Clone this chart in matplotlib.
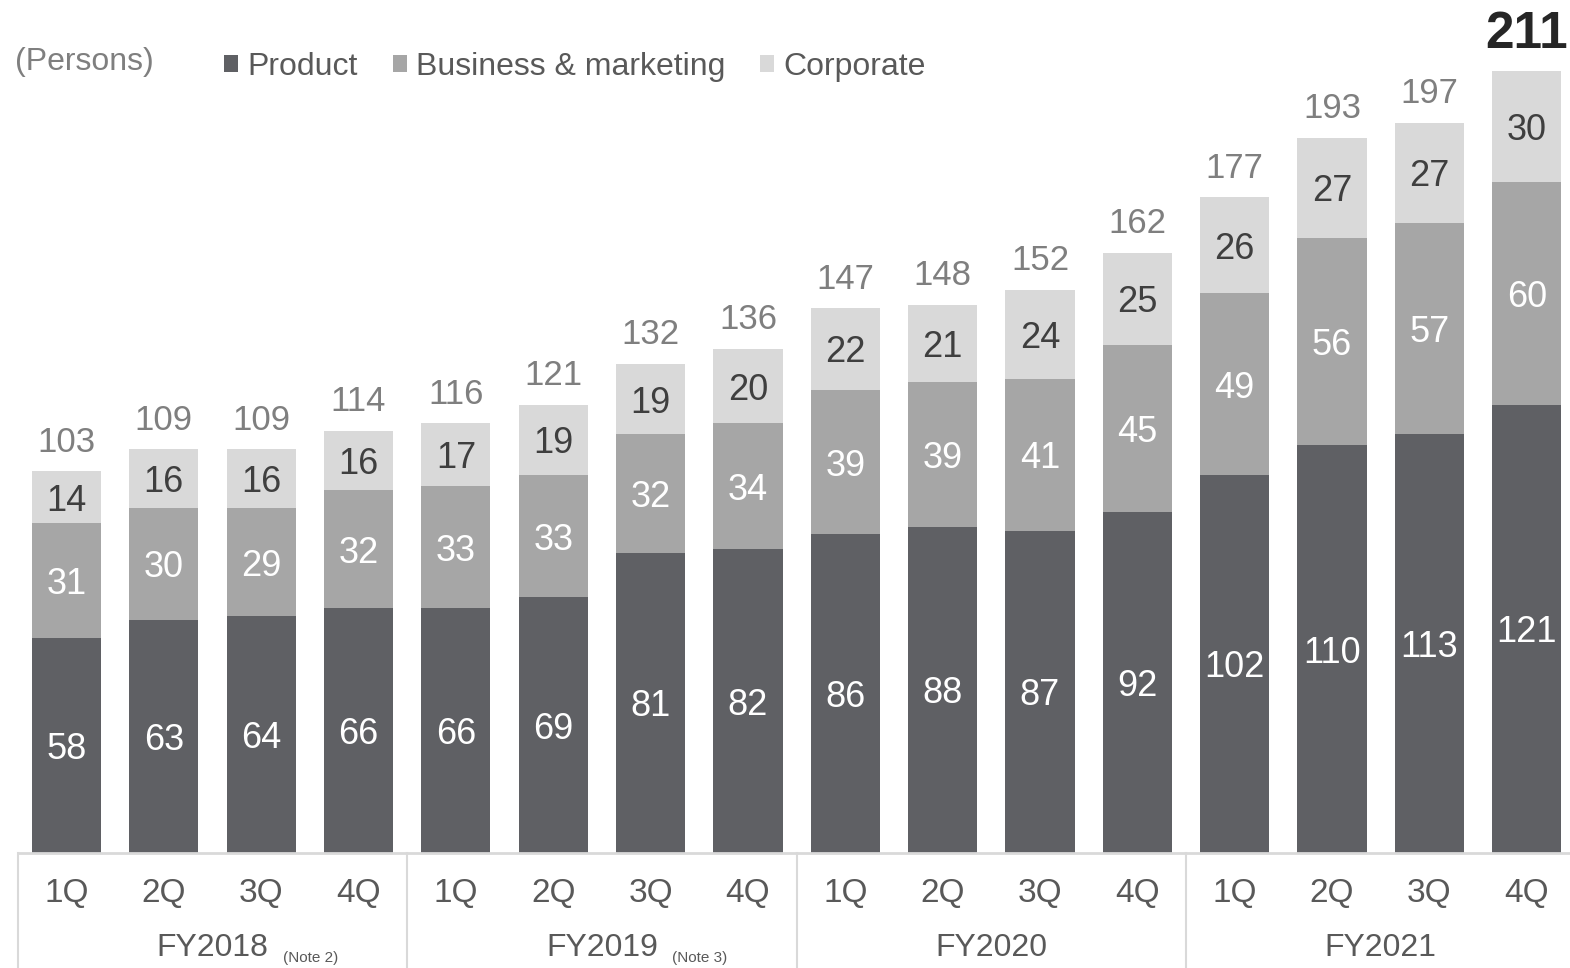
import numpy as np
import matplotlib
matplotlib.use("Agg")
import matplotlib.pyplot as plt
from matplotlib.patches import Patch

plt.rcParams["font.family"] = ["Liberation Sans", "DejaVu Sans"]

quarters = ["1Q", "2Q", "3Q", "4Q"] * 4
fiscal_years = ["FY2018", "FY2019", "FY2020", "FY2021"]
year_notes = ["(Note 2)", "(Note 3)", "", ""]

product = [58, 63, 64, 66, 66, 69, 81, 82, 86, 88, 87, 92, 102, 110, 113, 121]
business = [31, 30, 29, 32, 33, 33, 32, 34, 39, 39, 41, 45, 49, 56, 57, 60]
corporate = [14, 16, 16, 16, 17, 19, 19, 20, 22, 21, 24, 25, 26, 27, 27, 30]

series = [
    ("Product", product, "#5f6064", "white"),
    ("Business & marketing", business, "#a6a6a6", "white"),
    ("Corporate", corporate, "#d9d9d9", "#3f3f3f"),
]

fig = plt.figure(figsize=(15.7, 9.68), dpi=100)
ax = fig.add_axes([0, 115 / 968, 1, 853 / 968])
px = 1 / 3.706  # data units per pixel
step = 97.35  # pixels between bar centres

x = np.arange(len(product))
width = 0.71
bottom = np.zeros(len(x))
handles = []
for name, vals, color, txt_color in series:
    vals = np.array(vals)
    ax.bar(x, vals, width, bottom=bottom, color=color, linewidth=0)
    handles.append(Patch(facecolor=color, label=name))
    for xi, b, v in zip(x, bottom, vals):
        ax.text(xi, b + v / 2 - 4 * px, str(v), ha="center", va="center",
                fontsize=26, color=txt_color)
    bottom = bottom + vals

# totals above each stack, the latest one highlighted
for xi, total in zip(x, bottom):
    last = xi == x[-1]
    ax.annotate(str(int(total)), (xi, total), xytext=(0, 9),
                textcoords="offset points", ha="center", va="bottom",
                fontsize=37 if last else 25,
                fontweight="bold" if last else "normal",
                color="#262626" if last else "#7f7f7f", annotation_clip=False)

ax.set_xlim(-66.5 / step, (1570 - 66.5) / step)
ax.set_ylim(0, 853 * px)
ax.axis("off")

# category axis: baseline, year separators, quarter and year labels
ax.plot([-0.5, 16], [0, 0], color="#d9d9d9", lw=2, clip_on=False)
for sep in [-0.5, 3.5, 7.5, 11.5]:
    ax.plot([sep, sep], [0, -120 * px], color="#d9d9d9", lw=1.5, clip_on=False)
for xi, q in zip(x, quarters):
    ax.text(xi, -41 * px, q, ha="center", va="center", fontsize=24,
            color="#595959", clip_on=False)
for i, (fy, note) in enumerate(zip(fiscal_years, year_notes)):
    cx = 4 * i + 1.5
    ax.text(cx, -95 * px, fy, ha="center", va="center", fontsize=23,
            color="#595959", clip_on=False)
    if note:
        ax.text(cx + 0.72, -105 * px, note, ha="left", va="center",
                fontsize=11, color="#595959", clip_on=False)

fig.text(15 / 1570, 1 - 62 / 968, "(Persons)", ha="left", va="center",
         fontsize=23, color="#7f7f7f")
fig.legend(handles=handles, loc="center left",
           bbox_to_anchor=(224 / 1570, 1 - 67 / 968), ncol=3, frameon=False,
           borderpad=0, borderaxespad=0,
           fontsize=23, handlelength=0.45, handleheight=0.45,
           handletextpad=0.27, columnspacing=1.1, labelcolor="#595959")

fig.savefig("out.png", dpi=100)
